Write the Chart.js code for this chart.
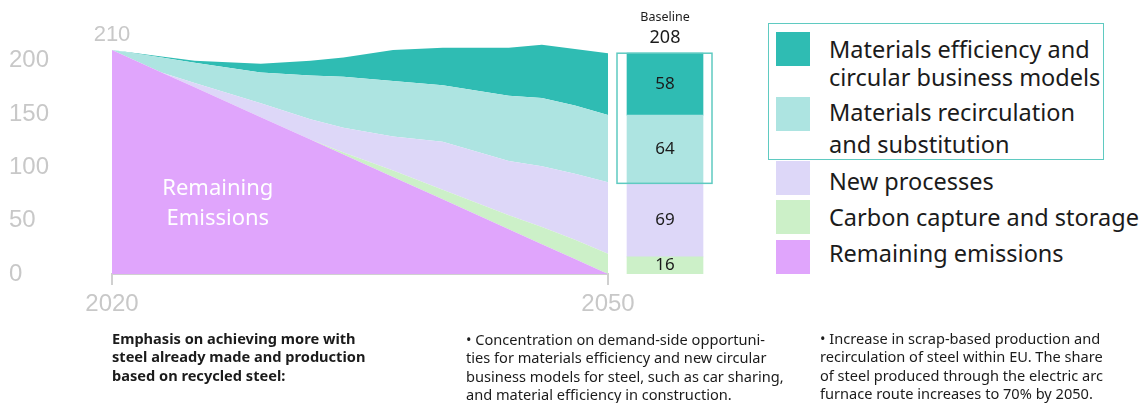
<!DOCTYPE html>
<html>
<head>
<meta charset="utf-8">
<script src="https://cdn.jsdelivr.net/npm/chart.js@4"></script>
<style>
  html, body { margin: 0; padding: 0; background: #fff; }
  body { width: 1146px; height: 403px; position: relative; overflow: hidden; font-family: "Noto Sans", sans-serif; color: #1b1b1b; }
  #main { position: absolute; left: 0; top: 0; }
  #base { position: absolute; left: 605px; top: 0; }
  .legend-box { position: absolute; left: 768px; top: 23px; width: 334px; height: 135px; border: 1.5px solid #5fcac1; }
  .sw { position: absolute; left: 776px; width: 34px; height: 34px; }
  .lt { position: absolute; left: 829px; font-size: 23.5px; line-height: 1; white-space: nowrap; transform: translateY(-50%); }
  .note { position: absolute; font-size: 14.6px; line-height: 18.3px; white-space: nowrap; }
  .note span { display: inline-block; transform-origin: left center; }
  .note.bold { font-weight: 700; }
</style>
</head>
<body>
<canvas id="main" width="660" height="330"></canvas>
<canvas id="base" width="120" height="330"></canvas>
<div id="legend"></div>
<div class="note bold" data-max="260" style="left:112px; top:329px;"><span>Emphasis on achieving more with</span><br><span>steel already made and production</span><br><span>based on recycled steel:</span></div>
<div class="note" data-max="320" style="left:466px; top:330px;"><span>• Concentration on demand-side opportuni-</span><br><span>ties for materials efficiency and new circular</span><br><span>business models for steel, such as car sharing,</span><br><span>and material efficiency in construction.</span></div>
<div class="note" data-max="283" style="left:820px; top:329px;"><span>• Increase in scrap-based production and</span><br><span>recirculation of steel within EU. The share</span><br><span>of steel produced through the electric arc</span><br><span>furnace route increases to 70% by 2050.</span></div>

<script>
// Emission pathway, Mt CO2 per year
const years         = [2020, 2023, 2025, 2029, 2032, 2034, 2037, 2040, 2044, 2046, 2048, 2050];
const remaining     = [210, 189, 175, 147, 126, 112, 91, 70, 42, 28, 14, 0];
const ccs           = [0, 0, 0, 0, 0, 2, 6, 9, 13, 16, 18, 19];
const newProcesses  = [0, 0, 4, 13, 19, 23, 32, 45, 51, 57, 62, 67];
const recirculation = [0, 14, 19, 29, 41, 48, 52, 53, 61, 64, 64, 63];
const efficiency    = [0, 1, 2, 8, 14, 18, 29, 35, 45, 50, 53, 58];

// Baseline bar (bottom to top: CCS, new processes, recirculation, efficiency)
const baselineSegments = [16, 69, 64, 58];
const baselineTotal = 208;

const axisYears = [2020, 2050];
const yTicks = [0, 50, 100, 150, 200];

const seriesNames = [
  'Materials efficiency and circular business models',
  'Materials recirculation and substitution',
  'New processes',
  'Carbon capture and storage',
  'Remaining emissions'
];
const colors = {
  efficiency: '#2fbcb3',
  recirculation: '#ade4e1',
  newProcesses: '#ddd7f8',
  ccs: '#ccf0c8',
  remaining: '#e0a5fc'
};

// keep each note line inside its column width
document.querySelectorAll('.note').forEach(n => {
  const max = +n.dataset.max;
  n.querySelectorAll('span').forEach(s => {
    const w = s.getBoundingClientRect().width;
    if (w > max) s.style.transform = 'scaleX(' + (max / w) + ')';
  });
});

const Y_MAX = 240;
const pts = arr => arr.map((v, i) => ({ x: years[i], y: v }));
const area = (label, arr, color, fill) => ({
  label, data: pts(arr), backgroundColor: color, borderColor: color,
  borderWidth: 0, pointRadius: 0, fill, tension: 0
});

const startTotal = remaining[0] + ccs[0] + newProcesses[0] + recirculation[0] + efficiency[0];

const areaNotes = {
  id: 'areaNotes',
  afterDatasetsDraw(chart) {
    const { ctx, scales: { x, y } } = chart;
    ctx.save();
    ctx.textAlign = 'center';
    ctx.textBaseline = 'middle';
    ctx.fillStyle = '#c8c8c8';
    ctx.font = '22px "Liberation Sans"';
    ctx.fillText(String(startTotal), x.getPixelForValue(2020), y.getPixelForValue(startTotal) - 15);
    ctx.fillStyle = '#ffffff';
    ctx.font = '22px "Noto Sans"';
    const cx = x.getPixelForValue(2026.4);
    const cy = y.getPixelForValue(66);
    ctx.fillText('Remaining', cx, cy - 15);
    ctx.fillText('Emissions', cx, cy + 15);
    ctx.restore();
  }
};

new Chart(document.getElementById('main'), {
  type: 'line',
  data: {
    datasets: [
      area(seriesNames[4], remaining, colors.remaining, 'origin'),
      area(seriesNames[3], ccs, colors.ccs, '-1'),
      area(seriesNames[2], newProcesses, colors.newProcesses, '-1'),
      area(seriesNames[1], recirculation, colors.recirculation, '-1'),
      area(seriesNames[0], efficiency, colors.efficiency, '-1')
    ]
  },
  options: {
    responsive: false,
    animation: false,
    layout: { padding: { left: 9, top: 18, right: 52, bottom: 0 } },
    plugins: { legend: { display: false }, tooltip: { enabled: false } },
    scales: {
      x: {
        type: 'linear', min: 2020, max: 2050,
        afterBuildTicks: s => { s.ticks = axisYears.map(v => ({ value: v })); },
        afterFit: s => { s.height = 56; },
        grid: { drawOnChartArea: false, drawTicks: true, tickLength: 11, color: '#d0d0d0', lineWidth: 2 },
        border: { display: true, color: '#d0d0d0', width: 2 },
        ticks: { font: { family: 'Liberation Sans', size: 24 }, color: '#c8c8c8', padding: 5, maxRotation: 0, callback: v => String(v) }
      },
      y: {
        stacked: true, min: 0, max: Y_MAX,
        afterBuildTicks: s => { s.ticks = yTicks.map(v => ({ value: v })); },
        afterFit: s => { s.width = 103; },
        grid: { display: false },
        border: { display: false },
        ticks: { crossAlign: 'far', font: { family: 'Liberation Sans', size: 24 }, color: '#c8c8c8', padding: 0 }
      }
    }
  },
  plugins: [areaNotes]
});

const baseNotes = {
  id: 'baseNotes',
  afterDatasetsDraw(chart) {
    const { ctx } = chart;
    ctx.save();
    ctx.textAlign = 'center';
    ctx.textBaseline = 'middle';
    ctx.fillStyle = '#1b1b1b';
    ctx.font = '17px "Noto Sans"';
    let topY = null, cx = null;
    chart.data.datasets.forEach((ds, i) => {
      const el = chart.getDatasetMeta(i).data[0];
      cx = el.x;
      ctx.fillText(String(ds.data[0]), el.x, (el.y + el.base) / 2);
      topY = topY === null ? el.y : Math.min(topY, el.y);
    });
    ctx.font = '18px "Noto Sans"';
    ctx.fillText(String(baselineTotal), cx, topY - 15);
    ctx.font = '12.5px "Noto Sans"';
    ctx.fillText('Baseline', cx, topY - 36);
    // frame round the two demand-side segments
    const recMeta = chart.getDatasetMeta(2).data[0];
    const effMeta = chart.getDatasetMeta(3).data[0];
    ctx.strokeStyle = '#5fcac1';
    ctx.lineWidth = 1.5;
    ctx.strokeRect(cx - 48, effMeta.y, 95, recMeta.base - effMeta.y);
    ctx.restore();
  }
};

const barSet = (label, v, color) => ({ label, data: [v], backgroundColor: color, borderWidth: 0, barThickness: 76 });

new Chart(document.getElementById('base'), {
  type: 'bar',
  data: {
    labels: ['Baseline'],
    datasets: [
      barSet(seriesNames[3], baselineSegments[0], colors.ccs),
      barSet(seriesNames[2], baselineSegments[1], colors.newProcesses),
      barSet(seriesNames[1], baselineSegments[2], colors.recirculation),
      barSet(seriesNames[0], baselineSegments[3], colors.efficiency)
    ]
  },
  options: {
    responsive: false,
    animation: false,
    layout: { padding: { left: 0, right: 0, top: 18, bottom: 56 } },
    plugins: { legend: { display: false }, tooltip: { enabled: false } },
    scales: {
      x: { display: false, stacked: true },
      y: { display: false, stacked: true, min: 0, max: Y_MAX }
    }
  },
  plugins: [baseNotes]
});

// Legend
const legendRows = [
  { color: colors.efficiency, top: 32, lines: [['Materials efficiency and', 50], ['circular business models', 78]] },
  { color: colors.recirculation, top: 97, lines: [['Materials recirculation', 113], ['and substitution', 145]] },
  { color: colors.newProcesses, top: 161, lines: [['New processes', 182]] },
  { color: colors.ccs, top: 200, lines: [['Carbon capture and storage', 218]] },
  { color: colors.remaining, top: 240, lines: [['Remaining emissions', 254]] }
];
const legend = document.getElementById('legend');
legendRows.forEach(r => {
  const sw = document.createElement('div');
  sw.className = 'sw';
  sw.style.top = r.top + 'px';
  sw.style.background = r.color;
  legend.appendChild(sw);
  r.lines.forEach(([t, y]) => {
    const d = document.createElement('div');
    d.className = 'lt';
    d.style.top = y + 'px';
    d.textContent = t;
    legend.appendChild(d);
  });
});
const box = document.createElement('div');
box.className = 'legend-box';
legend.appendChild(box);
</script>
</body>
</html>
